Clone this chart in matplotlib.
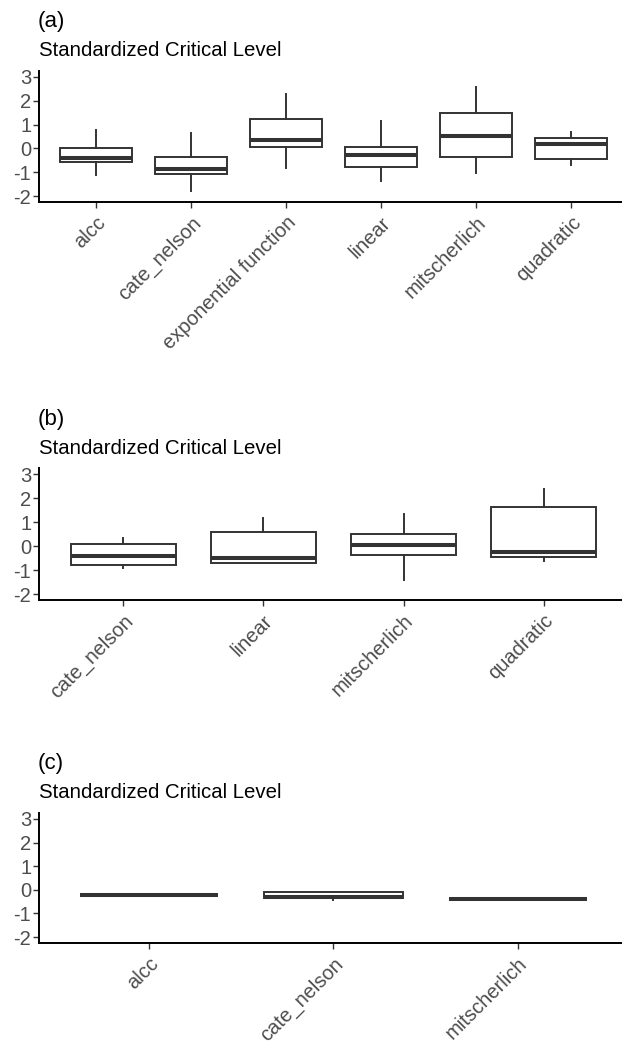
import matplotlib
matplotlib.use('Agg')
import matplotlib.pyplot as plt

plt.rcParams['font.family'] = ['Liberation Sans', 'DejaVu Sans']

# panel (a)
cats_a = ['alcc', 'cate_nelson', 'exponential function', 'linear', 'mitscherlich', 'quadratic']
whislo_a = [-1.10, -1.80, -0.84, -1.37, -1.02, -0.71]
q1_a = [-0.55, -1.09, 0.04, -0.76, -0.35, -0.44]
med_a = [-0.42, -0.88, 0.37, -0.28, 0.54, 0.18]
q3_a = [0.00, -0.35, 1.22, 0.04, 1.47, 0.45]
whishi_a = [0.78, 0.65, 2.27, 1.15, 2.58, 0.67]

# panel (b)
cats_b = ['cate_nelson', 'linear', 'mitscherlich', 'quadratic']
whislo_b = [-0.90, -0.70, -1.42, -0.63]
q1_b = [-0.79, -0.70, -0.36, -0.47]
med_b = [-0.40, -0.52, 0.04, -0.25]
q3_b = [0.10, 0.60, 0.49, 1.63]
whishi_b = [0.35, 1.17, 1.34, 2.38]

# panel (c)
cats_c = ['alcc', 'cate_nelson', 'mitscherlich']
whislo_c = [-0.21, -0.45, -0.37]
q1_c = [-0.21, -0.36, -0.37]
med_c = [-0.21, -0.30, -0.37]
q3_c = [-0.21, -0.10, -0.37]
whishi_c = [-0.21, -0.10, -0.37]

tags = ['(a)', '(b)', '(c)']
yticks = [-2, -1, 0, 1, 2, 3]

W, H = 622, 1046
fig = plt.figure(figsize=(W / 100, H / 100), dpi=100)

# axes boxes in pixels: left, top, right, bottom
boxes = [(39, 71, 628, 202), (39, 468, 628, 600), (39, 813, 628, 943)]

panels = [
    (cats_a, whislo_a, q1_a, med_a, q3_a, whishi_a),
    (cats_b, whislo_b, q1_b, med_b, q3_b, whishi_b),
    (cats_c, whislo_c, q1_c, med_c, q3_c, whishi_c),
]

dark = '#333333'
for k, (cats, lo, q1, med, q3, hi) in enumerate(panels):
    l, t, r, b = boxes[k]
    ax = fig.add_axes([l / W, 1 - b / H, (r - l) / W, (b - t) / H])
    stats = [dict(whislo=lo[i], q1=q1[i], med=med[i], q3=q3[i], whishi=hi[i], fliers=[])
             for i in range(len(cats))]
    pos = list(range(1, len(cats) + 1))
    ax.bxp(stats, positions=pos, widths=0.75, showcaps=False, patch_artist=True,
           boxprops=dict(facecolor='white', edgecolor=dark, linewidth=1.4),
           whiskerprops=dict(color=dark, linewidth=1.4),
           medianprops=dict(color=dark, linewidth=2.9, solid_capstyle='butt'))
    ax.set_xlim(0.4, len(cats) + 0.6)
    ax.set_ylim(-2.25, 3.25)
    ax.set_yticks(yticks)
    ax.set_yticklabels([str(v) for v in yticks])
    ax.set_xticks(pos)
    ax.set_xticklabels(cats, rotation=45, ha='right', va='top', rotation_mode='anchor')
    ax.tick_params(axis='both', colors='#333333', labelcolor='#4D4D4D', labelsize=14.5,
                   length=4, width=1.0)
    ax.tick_params(axis='y', pad=1.5)
    ax.tick_params(axis='x', pad=4)
    for s in ['top', 'right']:
        ax.spines[s].set_visible(False)
    for s in ['left', 'bottom']:
        ax.spines[s].set_linewidth(1.4)
        ax.spines[s].set_color('black')
    fig.text(l / W, 1 - (t - 20) / H, 'Standardized Critical Level', fontsize=14.7,
             ha='left', va='center', color='black')
    fig.text((l - 1) / W, 1 - (t - 49) / H, tags[k], fontsize=16,
             ha='left', va='center', color='black')

fig.savefig('out.png', dpi=100)
